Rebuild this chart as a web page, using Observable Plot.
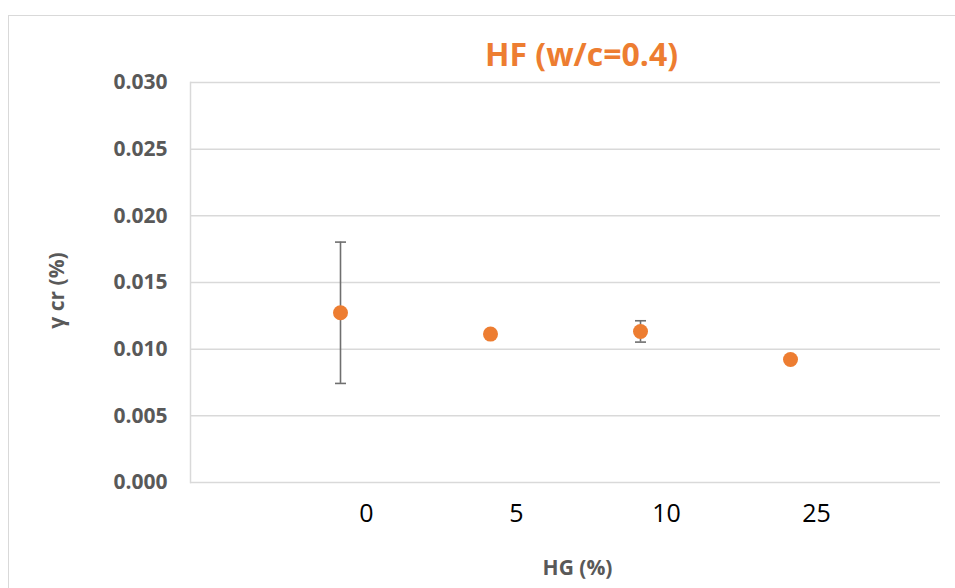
<!DOCTYPE html>
<html>
<head>
<meta charset="utf-8">
<script src="https://cdn.jsdelivr.net/npm/d3@7"></script>
<script src="https://cdn.jsdelivr.net/npm/@observablehq/plot@0.6"></script>
<style>
  html, body { margin: 0; padding: 0; background: #fff; }
  #wrap { position: relative; width: 955px; height: 588px; overflow: hidden; }
  #border { position: absolute; left: 8px; top: 15px; width: 960px; height: 600px;
            border-left: 1.5px solid #d9d9d9; border-top: 1.5px solid #d9d9d9; }
  #chart { position: absolute; left: 0; top: 0; }
</style>
</head>
<body>
<div id="wrap"><div id="border"></div><div id="chart"></div></div>
<script>
const categories = ["0", "5", "10", "25"];
const values = [0.01273, 0.01113, 0.01133, 0.00923];
const errors = [0.0053, null, 0.0008, null];
const yTicks = [0, 0.005, 0.010, 0.015, 0.020, 0.025, 0.030];
const title = "HF (w/c=0.4)";
const xTitle = "HG (%)";
const yTitle = "γ cr (%)";

const data = categories.map((c, i) => ({hg: c, v: values[i], e: errors[i]}));
const errData = data.filter(d => d.e != null).map(d => ({hg: d.hg, lo: d.v - d.e, hi: d.v + d.e}));

const capSymbol = {
  draw(ctx, size) {
    const r = Math.sqrt(size / Math.PI);
    ctx.moveTo(-r, 0);
    ctx.lineTo(r, 0);
  }
};

const font = "'Open Sans', 'DejaVu Sans', sans-serif";
const gray = "#595959";
const orange = "#ED7D31";

const chart = Plot.plot({
  width: 955,
  height: 588,
  marginLeft: 190,
  marginRight: 15,
  marginTop: 82,
  marginBottom: 106,
  style: {fontFamily: font, background: "transparent", overflow: "visible"},
  x: {type: "point", domain: categories, padding: 1},
  y: {domain: [0, 0.03]},
  marks: [
    Plot.gridY(yTicks, {stroke: "#d9d9d9", strokeOpacity: 1, strokeWidth: 1.5}),
    Plot.frame({anchor: "left", stroke: "#d9d9d9", strokeWidth: 1.5}),
    Plot.axisY({ticks: yTicks, tickFormat: d3.format(".3f"), tickSize: 0, tickPadding: 23,
      fontSize: 21, fontWeight: "bold", fill: gray, label: null}),
    Plot.axisX({tickSize: 0, tickPadding: 22, dx: 26, fontSize: 25, fill: "#000", label: null}),
    Plot.ruleX(errData, {x: "hg", y1: "lo", y2: "hi", stroke: "#6f6f6f", strokeWidth: 1.6}),
    Plot.dot(errData, {x: "hg", y: "hi", symbol: capSymbol, r: 5.5, stroke: "#6f6f6f", strokeWidth: 1.6, fill: "none"}),
    Plot.dot(errData, {x: "hg", y: "lo", symbol: capSymbol, r: 5.5, stroke: "#6f6f6f", strokeWidth: 1.6, fill: "none"}),
    Plot.dot(data, {x: "hg", y: "v", r: 7.5, fill: orange, stroke: "none"}),
    Plot.text([title], {frameAnchor: "top", lineAnchor: "middle", dx: 16, dy: -27, fontSize: 32, fontWeight: "bold", fill: orange}),
    Plot.text([xTitle], {frameAnchor: "bottom", lineAnchor: "middle", dx: 12, dy: 86, fontSize: 21, fontWeight: "bold", fill: gray}),
    Plot.text([yTitle], {frameAnchor: "left", lineAnchor: "middle", textAnchor: "middle", dx: -133, dy: 8, rotate: -90, fontSize: 21, fontWeight: "bold", fill: gray})
  ]
});
document.getElementById("chart").appendChild(chart);
</script>
</body>
</html>
